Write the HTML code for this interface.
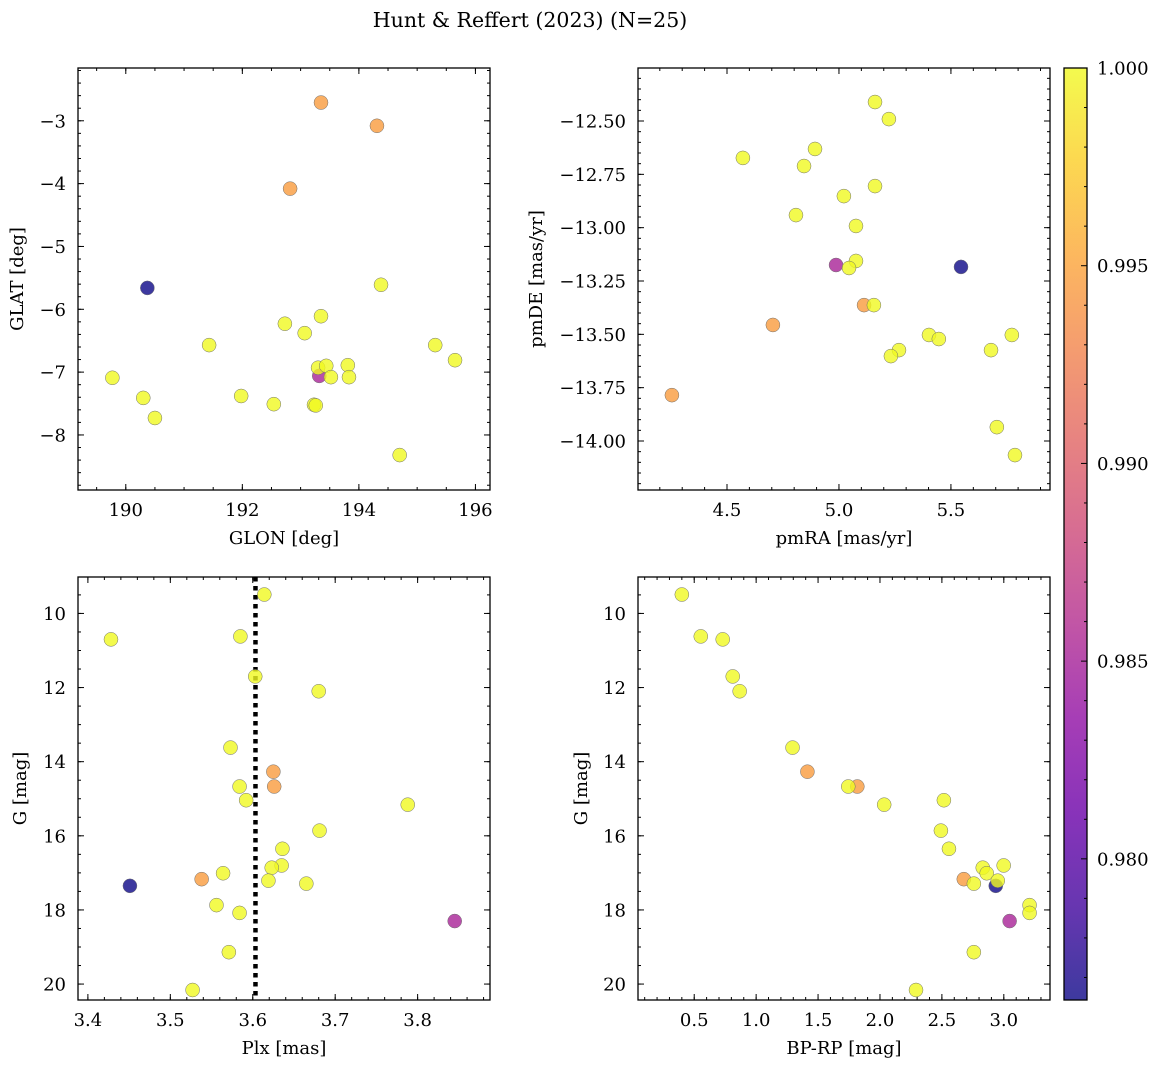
<!DOCTYPE html>
<html><head><meta charset="utf-8"><style>
body{margin:0;background:#fff}
svg text{font-family:"DejaVu Serif","Liberation Serif",serif;fill:#000}
</style></head><body>
<svg id="fig" width="1161" height="1067" xmlns="http://www.w3.org/2000/svg">
<defs>
<linearGradient id="cbgrad" x1="0" y1="1" x2="0" y2="0">
<stop offset="0" stop-color="#0d0887"/><stop offset="0.1" stop-color="#41049d"/><stop offset="0.2" stop-color="#6a00a8"/><stop offset="0.3" stop-color="#8f0da4"/><stop offset="0.4" stop-color="#b12a90"/><stop offset="0.5" stop-color="#cc4778"/><stop offset="0.6" stop-color="#e16462"/><stop offset="0.7" stop-color="#f2844b"/><stop offset="0.8" stop-color="#fca636"/><stop offset="0.9" stop-color="#fcce25"/><stop offset="1" stop-color="#f0f921"/>
</linearGradient>
</defs>
<text x="530" y="27" font-size="20.5" text-anchor="middle">Hunt &amp; Reffert (2023) (N=25)</text>
</svg>
<script>
// per-star data (orange x3, blue, purple, yellow x20)
const glon = [193.35,194.31,192.82,190.37,193.32, 194.38,192.73,193.07,193.35,191.43,195.31,195.65,189.77,190.30,190.50,191.98,192.54,193.23,193.26,193.30,193.44,193.52,193.81,193.83,194.70];
const glat = [-2.71,-3.08,-4.08,-5.66,-7.06, -5.61,-6.23,-6.38,-6.11,-6.57,-6.57,-6.81,-7.09,-7.41,-7.73,-7.38,-7.51,-7.52,-7.53,-6.93,-6.90,-7.08,-6.89,-7.08,-8.32];
const pmra = [4.705,5.112,4.254,5.545,4.987, 5.161,5.223,4.571,4.893,4.844,5.161,5.022,4.808,5.076,5.076,5.045,5.156,5.402,5.446,5.772,5.268,5.232,5.679,5.705,5.786];
const pmde = [-13.456,-13.363,-13.785,-13.184,-13.175, -12.411,-12.491,-12.673,-12.631,-12.711,-12.805,-12.852,-12.941,-12.992,-13.156,-13.189,-13.363,-13.503,-13.522,-13.503,-13.574,-13.602,-13.574,-13.935,-14.066];
const plx = [3.625,3.626,3.538,3.451,3.845, 3.614,3.428,3.585,3.603,3.680,3.573,3.584,3.592,3.788,3.681,3.636,3.635,3.623,3.564,3.619,3.665,3.556,3.584,3.571,3.527];
const gmag = [14.27,14.67,17.17,17.35,18.30, 9.49,10.70,10.62,11.70,12.10,13.62,14.67,15.04,15.16,15.86,16.35,16.80,16.86,17.01,17.21,17.29,17.87,18.08,19.14,20.16];
const bprp = [1.414,1.817,2.677,2.935,3.047, 0.40,0.730,0.553,0.811,0.867,1.294,1.744,2.516,2.034,2.492,2.557,2.999,2.830,2.862,2.951,2.758,3.208,3.208,2.758,2.291];
const prob = [0.9945,0.9945,0.9945,0.9764,0.9852, 1,1,1,1,1,1,1,1,1,1,1,1,1,1,1,1,1,1,1,1];
const cbTicks = [0.980,0.985,0.990,0.995,1.000];
const plxLine = [3.6033];

const NS='http://www.w3.org/2000/svg';
const svg=document.getElementById('fig');
const FS=18;
function mk(tag,attrs,parent){const e=document.createElementNS(NS,tag);for(const k in attrs)e.setAttribute(k,attrs[k]);(parent||svg).appendChild(e);return e;}
const stops=[[13,8,135],[65,4,157],[106,0,168],[143,13,164],[177,42,144],[204,71,120],[225,100,98],[242,132,75],[252,166,54],[252,206,37],[240,249,33]];
function plasma(t){t=Math.max(0,Math.min(1,t));const f=t*10,i=Math.min(9,Math.floor(f)),r=f-i;const a=stops[i],b=stops[i+1];return 'rgb('+a.map((v,k)=>Math.round(v+(b[k]-v)*r)).join(',')+')';}
const vmin=0.97643,vmax=1.0;
function fmt(v,d){const s=v.toFixed(d);return s.replace('-','\u2212');}

function panel(o){
  const g=mk('g',{});
  
  
  const sx=v=>o.x0+(v-o.xd[0])/(o.xd[1]-o.xd[0])*(o.x1-o.x0);
  const sy=v=>o.y1-(v-o.yd[0])/(o.yd[1]-o.yd[0])*(o.y1-o.y0);
  const tk=mk('g',{stroke:'#000','stroke-width':1},g);
  
  
  function ticksX(step,len){const s=Math.ceil(Math.min(...o.xd)/step-1e-9);for(let k=s;k*step<=Math.max(...o.xd)+1e-9;k++){const X=sx(k*step);mk('line',{x1:X,x2:X,y1:o.y1,y2:o.y1-len},tk);mk('line',{x1:X,x2:X,y1:o.y0,y2:o.y0+len},tk);}}
  function ticksY(step,len){const lo=Math.min(...o.yd),hi=Math.max(...o.yd);const s=Math.ceil(lo/step-1e-9);for(let k=s;k*step<=hi+1e-9;k++){const Y=sy(k*step);mk('line',{x1:o.x0,x2:o.x0+len,y1:Y,y2:Y},tk);mk('line',{x1:o.x1,x2:o.x1-len,y1:Y,y2:Y},tk);}}
  ticksX(o.xmaj,6);ticksX(o.xmin,3);ticksY(o.ymaj,6);ticksY(o.ymin,3);
  for(const v of o.xlab){const t=mk('text',{x:sx(v),y:o.y1+26,'font-size':FS,'text-anchor':'middle'},g);t.textContent=fmt(v,o.xdec);}
  for(const v of o.ylab){const t=mk('text',{x:o.x0-12,y:sy(v)+6.5,'font-size':FS,'text-anchor':'end'},g);t.textContent=fmt(v,o.ydec);}
  const xl=mk('text',{x:(o.x0+o.x1)/2,y:o.y1+54,'font-size':FS,'text-anchor':'middle'},g);xl.textContent=o.xt;
  
  const yx=o.ytx,yy=(o.y0+o.y1)/2;
  const yl=mk('text',{x:yx,y:yy,'font-size':FS,'text-anchor':'middle',transform:'rotate(-90 '+yx+' '+yy+')'},g);yl.textContent=o.yt;
  
  if(o.extra)o.extra(g,sx,sy);
  for(let i=0;i<o.xs.length;i++){
    const c=mk('circle',{cx:sx(o.xs[i]),cy:sy(o.ys[i]),r:7,fill:plasma((prob[i]-vmin)/(vmax-vmin)),'fill-opacity':0.8,stroke:'#707070','stroke-width':0.5},g);
    
    
  }
  const fr=mk('rect',{x:o.x0,y:o.y0,width:o.x1-o.x0,height:o.y1-o.y0,fill:'none',stroke:'#000','stroke-width':1.3},g);
  
}
panel({name:'glon-glat-panel',x0:78,x1:490,y0:68,y1:490,xd:[189.18,196.25],yd:[-8.876,-2.16],xmaj:2,xmin:0.5,ymaj:1,ymin:0.2,
  xlab:[190,192,194,196],xdec:0,ylab:[-8,-7,-6,-5,-4,-3],ydec:0,xt:'GLON [deg]',yt:'GLAT [deg]',ytx:23,xs:glon,ys:glat});
panel({name:'pm-panel',x0:638,x1:1050,y0:68,y1:490,xd:[4.1026,5.9424],yd:[-14.2297,-12.2515],xmaj:0.5,xmin:0.1,ymaj:0.25,ymin:0.05,
  xlab:[4.5,5.0,5.5],xdec:1,ylab:[-14,-13.75,-13.5,-13.25,-13,-12.75,-12.5],ydec:2,xt:'pmRA [mas/yr]',yt:'pmDE [mas/yr]',ytx:542,xs:pmra,ys:pmde});
panel({name:'plx-g-panel',x0:78,x1:490,y0:577,y1:1000,xd:[3.388,3.8878],yd:[20.43,9.017],xmaj:0.1,xmin:0.02,ymaj:2,ymin:0.5,
  xlab:[3.4,3.5,3.6,3.7,3.8],xdec:1,ylab:[10,12,14,16,18,20],ydec:0,xt:'Plx [mas]',yt:'G [mag]',ytx:26,xs:plx,ys:gmag,
  extra:(g,sx,sy)=>{for(const v of plxLine){const l=mk('line',{x1:sx(v),x2:sx(v),y1:577,y2:1000,stroke:'#000','stroke-width':4.5,'stroke-dasharray':'4.5,4.5'},g);}}});
panel({name:'cmd-panel',x0:638,x1:1050,y0:577,y1:1000,xd:[0.046,3.373],yd:[20.43,9.017],xmaj:0.5,xmin:0.1,ymaj:2,ymin:0.5,
  xlab:[0.5,1.0,1.5,2.0,2.5,3.0],xdec:1,ylab:[10,12,14,16,18,20],ydec:0,xt:'BP-RP [mag]',yt:'G [mag]',ytx:587,xs:bprp,ys:gmag});

const cb=mk('g',{});


const cx0=1064,cx1=1087,cy0=68,cy1=1000;
const cbar=mk('rect',{x:cx0,y:cy0,width:cx1-cx0,height:cy1-cy0,fill:'url(#cbgrad)','fill-opacity':0.8},cb);

const cyS=v=>cy1-(v-vmin)/(vmax-vmin)*(cy1-cy0);
for(let k=Math.ceil(vmin/0.001);k*0.001<=vmax+1e-9;k++){const Y=cyS(k*0.001);const maj=(k%5===0);mk('line',{x1:cx1,x2:cx1-(maj?6:3),y1:Y,y2:Y,stroke:'#000','stroke-width':1},cb);}
for(const v of cbTicks){const t=mk('text',{x:1097,y:cyS(v)+6.5,'font-size':FS},cb);t.textContent=v.toFixed(3);}
mk('rect',{x:cx0,y:cy0,width:cx1-cx0,height:cy1-cy0,fill:'none',stroke:'#000','stroke-width':1.3},cb);
</script>
</body></html>
